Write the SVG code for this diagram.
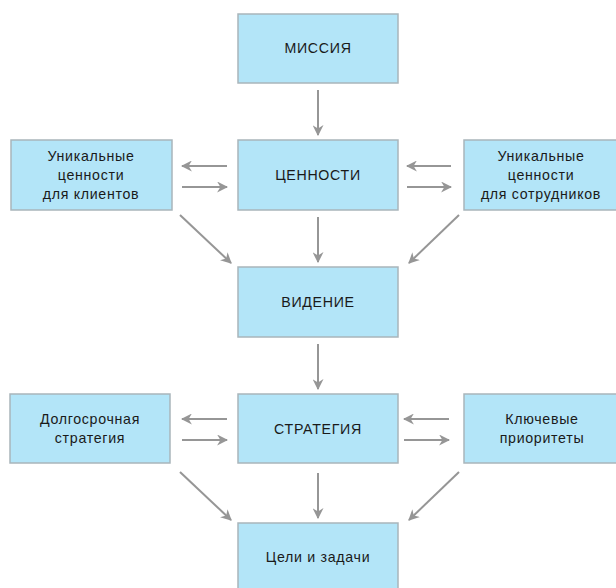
<svg xmlns="http://www.w3.org/2000/svg" width="616" height="588" viewBox="0 0 616 588">
<defs>
<style>
.box{fill:#b3e5f8;stroke:#a9b5bb;stroke-width:1.5}
.t{font-family:"Liberation Sans",Arial,sans-serif;font-size:14.2px;fill:#1a1a1a;text-anchor:middle;dominant-baseline:central;letter-spacing:0.7px}
.c line{stroke:#969696;stroke-width:2;marker-end:url(#ah)}
</style>
<marker id="ah" viewBox="0 0 10 10" refX="9" refY="5" markerWidth="5.5" markerHeight="5.5" orient="auto" markerUnits="strokeWidth">
<path d="M0,0 L10,5 L0,10 L3,5 Z" fill="#969696"/>
</marker>
</defs>
<rect width="616" height="588" fill="#fff"/>
<g id="missiya"><rect class="box" x="238" y="14" width="160" height="69"/><text class="t" x="318" y="48">МИССИЯ</text></g>
<g id="tsennosti"><rect class="box" x="238" y="140" width="160" height="70"/><text class="t" x="318" y="175">ЦЕННОСТИ</text></g>
<g id="klienty"><rect class="box" x="11" y="140" width="161" height="70"/><text class="t" x="91" y="156">Уникальные</text><text class="t" x="91" y="175">ценности</text><text class="t" x="91" y="194">для клиентов</text></g>
<g id="sotrudniki"><rect class="box" x="464" y="140" width="162" height="70"/><text class="t" x="541" y="156">Уникальные</text><text class="t" x="541" y="175">ценности</text><text class="t" x="541" y="194">для сотрудников</text></g>
<g id="videnie"><rect class="box" x="238" y="267" width="160" height="70"/><text class="t" x="318" y="302">ВИДЕНИЕ</text></g>
<g id="strategiya"><rect class="box" x="238" y="394" width="160" height="69"/><text class="t" x="318" y="429">СТРАТЕГИЯ</text></g>
<g id="dolgosrochnaya"><rect class="box" x="10" y="394" width="160" height="69"/><text class="t" x="90" y="419">Долгосрочная</text><text class="t" x="90" y="438">стратегия</text></g>
<g id="prioritety"><rect class="box" x="464" y="394" width="162" height="69"/><text class="t" x="542" y="419">Ключевые</text><text class="t" x="542" y="438">приоритеты</text></g>
<g id="tseli"><rect class="box" x="238" y="523" width="160" height="75"/><text class="t" x="318" y="557">Цели и задачи</text></g>
<g class="c" id="connectors">
<line x1="318" y1="90" x2="318" y2="135"/>
<line x1="227" y1="166" x2="182" y2="166"/>
<line x1="182" y1="187" x2="227" y2="187"/>
<line x1="451" y1="166" x2="407" y2="166"/>
<line x1="407" y1="187" x2="451" y2="187"/>
<line x1="180" y1="215" x2="231" y2="263"/>
<line x1="459" y1="215" x2="409" y2="263"/>
<line x1="318" y1="217" x2="318" y2="262"/>
<line x1="318" y1="344" x2="318" y2="389"/>
<line x1="227" y1="419" x2="182" y2="419"/>
<line x1="182" y1="440" x2="227" y2="440"/>
<line x1="449" y1="419" x2="404" y2="419"/>
<line x1="404" y1="440" x2="449" y2="440"/>
<line x1="180" y1="472" x2="231" y2="520"/>
<line x1="459" y1="472" x2="409" y2="520"/>
<line x1="318" y1="473" x2="318" y2="518"/>
</g>
</svg>
